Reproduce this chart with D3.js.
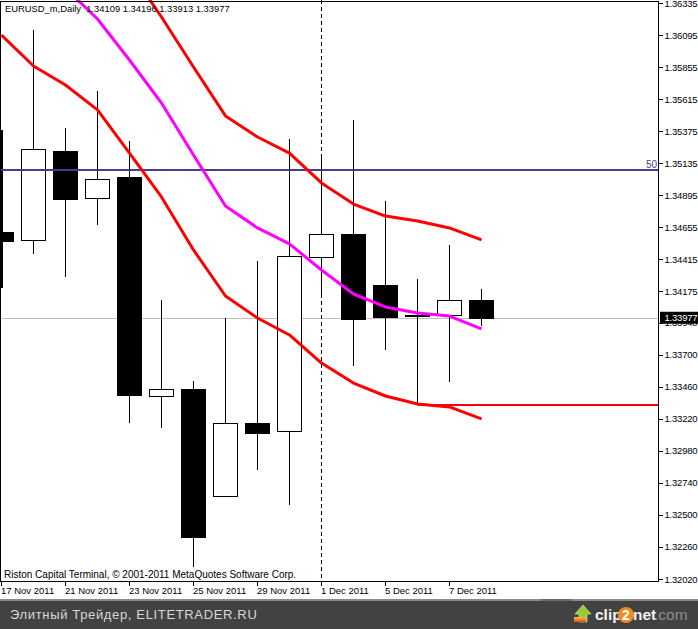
<!DOCTYPE html>
<html><head><meta charset="utf-8">
<script src="https://cdn.jsdelivr.net/npm/d3@7/dist/d3.min.js"></script>
<style>html,body{margin:0;padding:0;background:#fff;overflow:hidden}svg{display:block}
text{font-family:"Liberation Sans",sans-serif}</style></head>
<body><svg id="c" width="698" height="629"></svg>
<script>
const dates=["17 Nov 2011","18 Nov 2011","21 Nov 2011","22 Nov 2011","23 Nov 2011","24 Nov 2011","25 Nov 2011","28 Nov 2011","29 Nov 2011","30 Nov 2011","1 Dec 2011","2 Dec 2011","5 Dec 2011","6 Dec 2011","7 Dec 2011","8 Dec 2011"];
const opens=[1.34620,1.34560,1.35226,1.34874,1.35032,1.33391,1.33444,1.32642,1.33189,1.33129,1.34432,1.34605,1.34223,1.33998,1.33998,1.34109];
const highs=[1.35384,1.36133,1.35399,1.35676,1.35301,1.34110,1.33503,1.33975,1.34402,1.35316,1.35196,1.35459,1.34852,1.34268,1.34522,1.34196];
const lows=[1.34200,1.34455,1.34283,1.34672,1.33189,1.33151,1.32110,1.32642,1.32837,1.32575,1.34148,1.33616,1.33736,1.33324,1.33496,1.33913];
const closes=[1.34552,1.35241,1.34867,1.35017,1.33399,1.33444,1.32335,1.33189,1.33114,1.34440,1.34605,1.33968,1.33983,1.33990,1.34110,1.33977];
const upperBand=[null,null,null,null,1.36582,1.36230,1.35856,1.35489,1.35331,1.35211,1.34987,1.34829,1.34739,1.34702,1.34650,1.34560];
const midBand=[null,null,1.36447,1.36215,1.35908,1.35586,1.35196,1.34814,1.34650,1.34530,1.34335,1.34155,1.34058,1.34013,1.33990,1.33893];
const lowerBand=[1.36095,1.35863,1.35721,1.35534,1.35211,1.34882,1.34485,1.34140,1.33975,1.33848,1.33638,1.33488,1.33391,1.33331,1.33309,1.33219];
const yTicks=["1.36335","1.36095","1.35855","1.35615","1.35375","1.35135","1.34895","1.34655","1.34415","1.34175","1.33940","1.33700","1.33460","1.33220","1.32980","1.32740","1.32500","1.32260","1.32020"];
const xTickIdx=[0,2,4,6,8,10,12,14];
const fib=1.35084, fibLabel="50", trend=1.33324, last=1.33977, lastLabel="1.33977", cursorIdx=10;
const header="EURUSD_m,Daily  1.34109 1.34196 1.33913 1.33977";
const credit="Riston Capital Terminal, © 2001-2011 MetaQuotes Software Corp.";
const footerText="Элитный Трейдер, ELITETRADER.RU";

const svg=d3.select("#c");
const y=d3.scaleLinear().domain([1.32020,1.36335]).range([579,3]);
const x=d3.scaleLinear().domain([0,15]).range([1.5,481.5]);
const L=1,R=658.5,T=1.5,B=581.5,hw=12;
svg.append("defs").append("clipPath").attr("id","plot").append("rect").attr("x",1).attr("y",0).attr("width",658).attr("height",581);
const g=svg.append("g").attr("clip-path","url(#plot)");
const idx=d3.range(dates.length);

g.append("line").attr("x1",L).attr("x2",R).attr("y1",Math.round(y(last))+.5).attr("y2",Math.round(y(last))+.5).attr("stroke","#c0c0c0").attr("shape-rendering","crispEdges");
// crosshair sits behind the candles
g.append("line").attr("x1",x(cursorIdx)).attr("x2",x(cursorIdx)).attr("y1",0).attr("y2",B).attr("stroke","#000").attr("stroke-dasharray","4,3").attr("shape-rendering","crispEdges");
// wicks
g.selectAll(".w").data(idx).join("line").attr("x1",i=>x(i)).attr("x2",i=>x(i)).attr("y1",i=>y(highs[i])).attr("y2",i=>y(lows[i])).attr("stroke","#000").attr("stroke-width",i=>i==0?2:1).attr("shape-rendering","crispEdges");
g.selectAll(".b").data(idx).join("rect")
 .attr("x",i=>x(i)-hw).attr("width",hw*2)
 .attr("y",i=>Math.round(y(Math.max(opens[i],closes[i])))+.5)
 .attr("height",i=>Math.max(1,Math.round(Math.abs(y(opens[i])-y(closes[i])))))
 .attr("fill",i=>closes[i]>opens[i]?"#fff":"#000").attr("stroke","#000").attr("shape-rendering","crispEdges");
g.append("line").attr("x1",L).attr("x2",R).attr("y1",y(fib)).attr("y2",y(fib)).attr("stroke","#483d8b").attr("stroke-width",2);
g.append("line").attr("x1",x(13)).attr("x2",R).attr("y1",y(trend)).attr("y2",y(trend)).attr("stroke","#f00").attr("stroke-width",2);
const line=d3.line().defined(d=>d!=null).x((d,i)=>x(i)).y(d=>y(d));
[[upperBand,"#f00"],[lowerBand,"#f00"],[midBand,"#f0f"]].forEach(([s,c])=>{
 g.append("path").attr("d",line(s)).attr("fill","none").attr("stroke",c).attr("stroke-width",3).attr("stroke-linejoin","round");
});
svg.append("path").attr("d",`M${L-.5},${T}H${R}V${B}H${L-.5}Z`).attr("fill","none").attr("stroke","#000").attr("shape-rendering","crispEdges");
const ya=svg.append("g");
yTicks.forEach(t=>{const py=y(+t);
 ya.append("line").attr("x1",R).attr("x2",R+4).attr("y1",Math.round(py)+.5).attr("y2",Math.round(py)+.5).attr("stroke","#000").attr("shape-rendering","crispEdges");
 ya.append("text").attr("x",664.5).attr("y",py+3.5).attr("font-size",9.5).attr("letter-spacing",-.2).attr("fill","#000").text(t);
});
svg.append("rect").attr("x",660).attr("width",38).attr("y",y(last)-6).attr("height",12).attr("fill","#000");
svg.append("text").attr("x",664.5).attr("y",y(last)+3.5).attr("font-size",9.5).attr("letter-spacing",-.2).attr("fill","#fff").text(lastLabel);
xTickIdx.forEach(i=>{
 svg.append("line").attr("x1",x(i)).attr("x2",x(i)).attr("y1",B).attr("y2",B+4).attr("stroke","#000").attr("shape-rendering","crispEdges");
 svg.append("text").attr("x",x(i)-.5).attr("y",594).attr("font-size",9.5).text(dates[i]);
});
svg.append("text").attr("x",657).attr("y",168).attr("text-anchor","end").attr("font-size",10).attr("fill","#483d8b").text(fibLabel);
svg.append("text").attr("x",5).attr("y",12).attr("font-size",9.4).style("white-space","pre").text(header);
svg.append("text").attr("x",4).attr("y",578).attr("font-size",10).text(credit);
// footer
svg.append("rect").attr("x",0).attr("y",599).attr("width",698).attr("height",2).attr("fill","#8a8a8a");
svg.append("rect").attr("x",0).attr("y",601).attr("width",698).attr("height",28).attr("fill","#424242");
svg.append("rect").attr("x",541).attr("y",599).attr("width",31).attr("height",2).attr("fill","#6a6a6a");
svg.append("text").attr("x",10).attr("y",619).attr("font-size",13).attr("letter-spacing",.65).attr("fill","#d8d8d8").text(footerText);
// logo
svg.append("path").attr("d","M583,605 L591,614 H587 V622 H579 V614 H575 Z").attr("fill","#9acb34").attr("stroke","#e6eeb0").attr("stroke-width",.6);
const lg=svg.select("defs").append("linearGradient").attr("id","bar").attr("x1",0).attr("x2",0).attr("y1",0).attr("y2",1);
lg.append("stop").attr("offset",0).attr("stop-color","#f7c531");lg.append("stop").attr("offset",1).attr("stop-color","#d9501e");
svg.append("rect").attr("x",574).attr("y",617).attr("width",12).attr("height",5).attr("fill","url(#bar)");
svg.append("text").attr("x",595).attr("y",620).attr("font-size",15.5).attr("font-weight","bold").attr("fill","#f2f2f2").text("clip");
svg.append("circle").attr("cx",626).attr("cy",615).attr("r",8).attr("fill","#f08a24");
svg.append("text").attr("x",626).attr("y",620).attr("text-anchor","middle").attr("font-size",14).attr("font-weight","bold").attr("fill","#fff").text("2");
svg.append("text").attr("x",633).attr("y",620).attr("font-size",15.5).attr("font-weight","bold").attr("fill","#f2f2f2").text("net");
svg.append("text").attr("x",654).attr("y",620).attr("font-size",15.5).attr("fill","#8f8f8f").text(".com");
</script></body></html>
